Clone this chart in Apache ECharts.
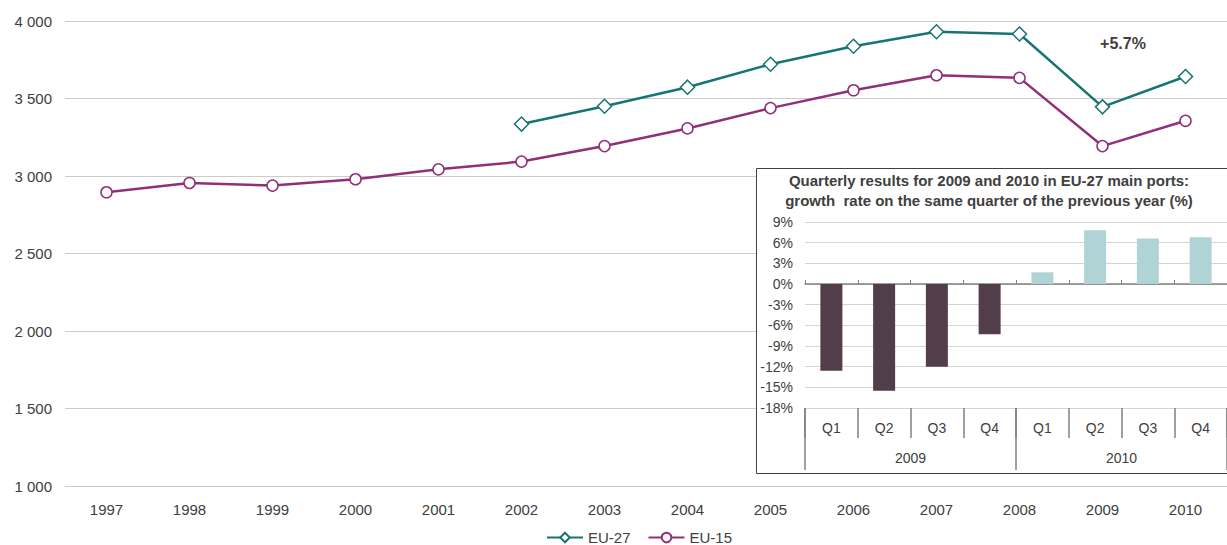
<!DOCTYPE html>
<html>
<head>
<meta charset="utf-8">
<script src="https://cdn.jsdelivr.net/npm/echarts@6/dist/echarts.min.js"></script>
<style>
  html, body { margin: 0; padding: 0; background: #fff; }
  #chart { width: 1227px; height: 545px; }
</style>
</head>
<body>
<div id="chart"></div>
<script>
// Annual totals (main chart)
const years = ['1997', '1998', '1999', '2000', '2001', '2002', '2003', '2004', '2005', '2006', '2007', '2008', '2009', '2010'];
const eu27 = [null, null, null, null, null, 3335, 3450, 3573, 3721, 3837, 3931, 3916, 3446, 3642];
const eu15 = [2895, 2955, 2938, 2979, 3043, 3093, 3193, 3307, 3438, 3553, 3650, 3633, 3193, 3356];

// Quarterly growth rates (inset)
const quarters = ['Q1', 'Q2', 'Q3', 'Q4', 'Q1', 'Q2', 'Q3', 'Q4'];
const quarterYears = ['2009', '2010'];
const quarterYearOf = [0, 0, 0, 0, 1, 1, 1, 1];
const quarterGrowth = [-12.6, -15.5, -12.0, -7.3, 1.7, 7.8, 6.6, 6.8];

const annotation = '+5.7%';
const insetTitle = 'Quarterly results for 2009 and 2010 in EU-27 main ports:\ngrowth  rate on the same quarter of the previous year (%)';

const FONT = '"Liberation Sans", Arial, sans-serif';
const TEXT = '#404040';
const yearColors = ['#523d4a', '#b0d4d6'];

const fmtThousands = v => String(v).replace(/\B(?=(\d{3})+(?!\d))/g, ' ');

const chart = echarts.init(document.getElementById('chart'), null, { renderer: 'svg' });

chart.setOption({
  animation: false,
  backgroundColor: '#fff',
  textStyle: { fontFamily: FONT, color: TEXT },
  grid: [
    { left: 65, right: -12, top: 21, bottom: 59 },
    { left: 805, width: 425, top: 222, height: 186 }
  ],
  legend: {
    data: ['EU-27', 'EU-15'],
    left: 546,
    top: 530,
    padding: 0,
    itemWidth: 36,
    itemHeight: 12,
    itemGap: 17,
    textStyle: { fontFamily: FONT, fontSize: 15, lineHeight: 15, color: TEXT }
  },
  graphic: [
    {
      type: 'rect',
      z: 1,
      shape: { x: 756.5, y: 168.5, width: 480, height: 305 },
      style: { fill: '#fff', stroke: '#404040', lineWidth: 1 }
    },
    {
      type: 'text',
      z: 5,
      x: 989,
      y: 170,
      style: {
        text: insetTitle,
        align: 'center',
        verticalAlign: 'top',
        font: 'bold 15px ' + FONT,
        fill: TEXT,
        lineHeight: 20
      }
    },
    {
      type: 'text',
      z: 5,
      x: 1123,
      y: 43,
      style: {
        text: annotation,
        align: 'center',
        verticalAlign: 'middle',
        font: 'bold 16px ' + FONT,
        fill: TEXT
      }
    }
  ],
  xAxis: [
    {
      type: 'category',
      gridIndex: 0,
      data: years,
      boundaryGap: true,
      axisLine: { show: false },
      axisTick: { show: false },
      axisLabel: { fontSize: 15, color: TEXT, margin: 16, fontFamily: FONT }
    },
    // zero line of the inset with its small ticks
    {
      type: 'category',
      gridIndex: 1,
      data: quarters,
      z: 3,
      axisLine: { onZero: true, lineStyle: { color: '#808080', width: 1.5 } },
      axisTick: { show: true, inside: true, length: 4, lineStyle: { color: '#808080' } },
      axisLabel: { show: false }
    },
    // quarter labels
    {
      type: 'category',
      gridIndex: 1,
      data: quarters,
      position: 'bottom',
      z: 3,
      axisLine: { show: false, onZero: false },
      axisTick: { show: true, length: 30, lineStyle: { color: '#808080', width: 1.5 } },
      axisLabel: { fontSize: 14, color: TEXT, margin: 13, fontFamily: FONT }
    },
    // year labels
    {
      type: 'category',
      gridIndex: 1,
      data: quarterYears,
      position: 'bottom',
      z: 3,
      axisLine: { show: false, onZero: false },
      axisTick: { show: true, length: 62, lineStyle: { color: '#808080', width: 1.5 } },
      axisLabel: { fontSize: 14, color: TEXT, margin: 43, fontFamily: FONT }
    }
  ],
  yAxis: [
    {
      type: 'value',
      gridIndex: 0,
      min: 1000,
      max: 4000,
      interval: 500,
      axisLine: { show: false },
      axisTick: { show: false },
      splitLine: { lineStyle: { color: '#cccccc', width: 1 } },
      axisLabel: { fontSize: 15, color: TEXT, margin: 13, fontFamily: FONT, formatter: fmtThousands }
    },
    {
      type: 'value',
      gridIndex: 1,
      min: -18,
      max: 9,
      interval: 3,
      z: 3,
      axisLine: { show: false },
      axisTick: { show: false },
      splitLine: { lineStyle: { color: '#d4d4d4', width: 1 } },
      axisLabel: { fontSize: 14, color: TEXT, margin: 12, fontFamily: FONT, formatter: v => v + '%' }
    }
  ],
  series: [
    {
      name: 'EU-27',
      type: 'line',
      xAxisIndex: 0,
      yAxisIndex: 0,
      data: eu27,
      symbol: 'diamond',
      symbolSize: 14,
      lineStyle: { color: '#177475', width: 2.5 },
      itemStyle: { color: '#fff', borderColor: '#177475', borderWidth: 1.5 },
      color: '#177475'
    },
    {
      name: 'EU-15',
      type: 'line',
      xAxisIndex: 0,
      yAxisIndex: 0,
      data: eu15,
      symbol: 'circle',
      symbolSize: 11,
      lineStyle: { color: '#912f79', width: 2.5 },
      itemStyle: { color: '#fff', borderColor: '#912f79', borderWidth: 1.5 },
      color: '#912f79'
    },
    {
      name: 'Quarterly growth',
      type: 'bar',
      xAxisIndex: 1,
      yAxisIndex: 1,
      z: 4,
      barWidth: 22,
      data: quarterGrowth.map((v, i) => ({
        value: v,
        itemStyle: { color: yearColors[quarterYearOf[i]] }
      }))
    }
  ]
});
</script>
</body>
</html>
